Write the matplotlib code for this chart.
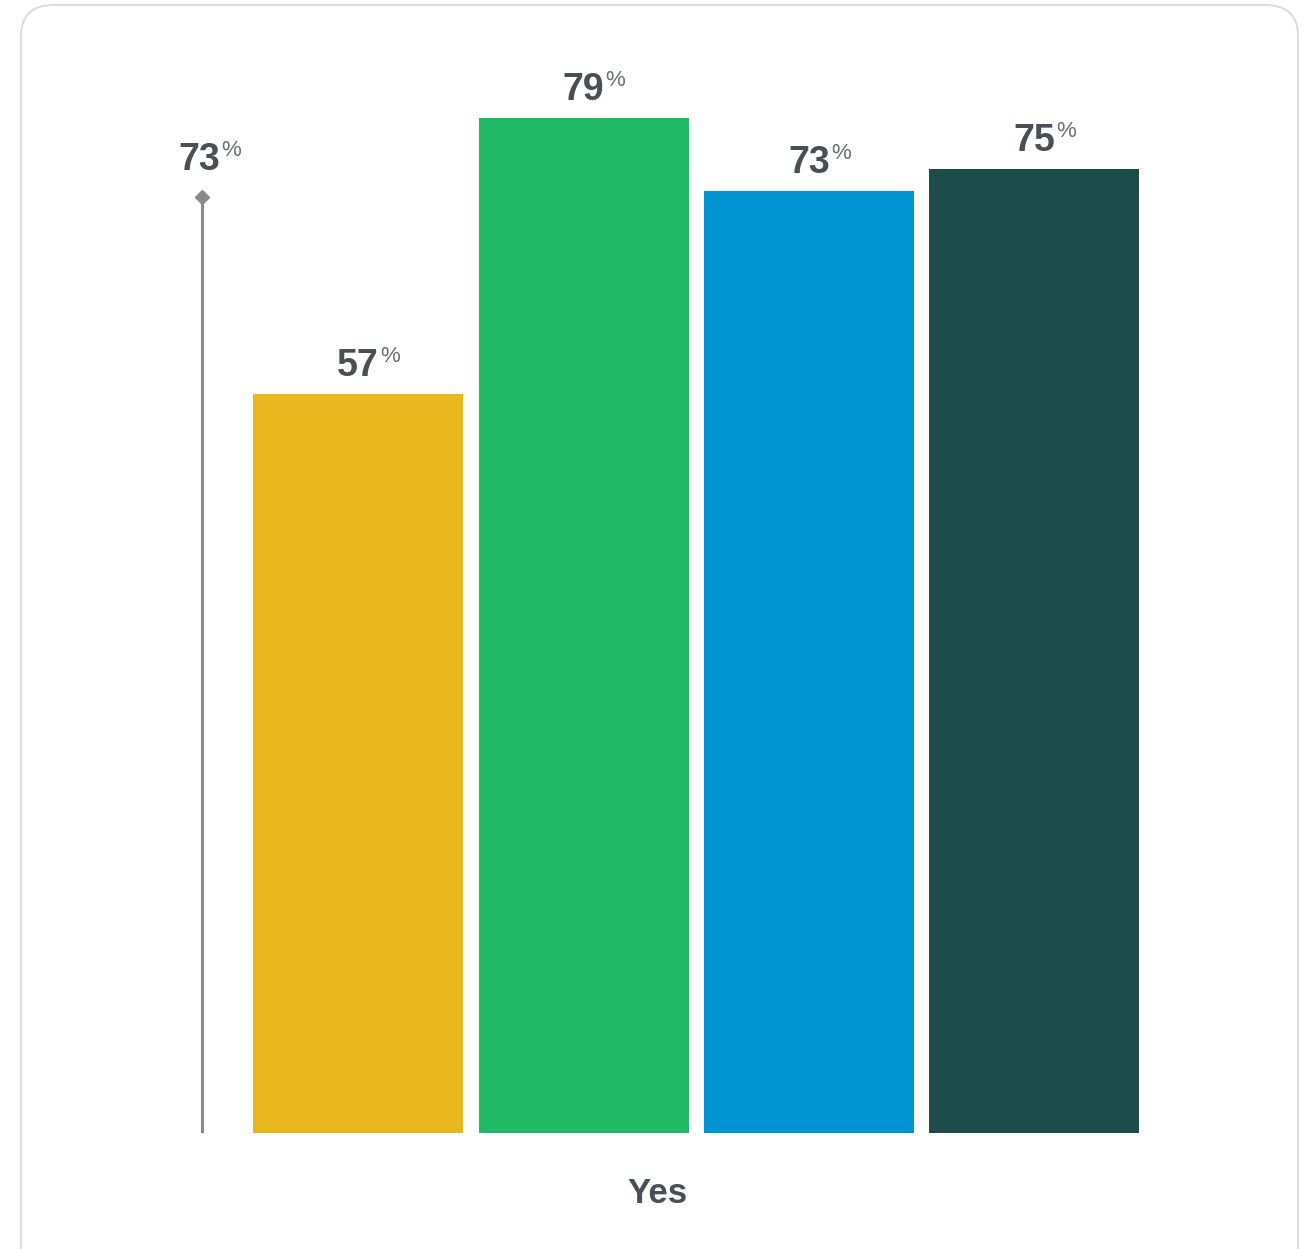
import matplotlib.pyplot as plt
from matplotlib.patches import FancyBboxPatch

# data (bar heights, labels show rounded values)
category = "Yes"
values = [57.4, 78.9, 73.2, 74.9]
colors = ["#E8B81E", "#21B866", "#0194D3", "#1C4D4B"]
reference = 72.7

text_color = "#4A4F56"
plt.rcParams['font.family'] = ['Liberation Sans', 'DejaVu Sans']

W, H = 1308, 1249
fig = plt.figure(figsize=(W / 100, H / 100), dpi=100)
fig.patch.set_facecolor("white")

# rounded card, behind the axes
card = FancyBboxPatch((21 / W, -40 / H), 1277 / W, (H - 5 + 40) / H,
                      boxstyle="round,pad=0,rounding_size=0.025",
                      transform=fig.transFigure, facecolor="white",
                      edgecolor="#D9D9D9", linewidth=1.3, zorder=-5)
fig.patches.append(card)

# axes: baseline at y=1133 px, ~12.87 px per %
px_per_unit = 225.5
ymax = 85
ax = fig.add_axes([0, (H - 1133) / H, 1, ymax * 12.87 / H])
ax.set_xlim(-358 / px_per_unit, (W - 358) / px_per_unit)
ax.set_ylim(0, ymax)
ax.axis("off")
ax.patch.set_alpha(0)

xs = list(range(len(values)))
ax.bar(xs, values, width=210 / px_per_unit, color=colors, zorder=2)

# reference line
ref_x = (202 - 358) / px_per_unit
ax.plot([ref_x, ref_x], [0, reference], color="#8A8A8A", lw=2.2, zorder=2)
ax.plot([ref_x], [reference], marker="D", color="#8A8A8A", markersize=7, zorder=3)

nums = []
for x, v in zip(xs, values):
    t = ax.annotate(f"{round(v)}", (x, v), xytext=(0, 13), textcoords="offset points",
                    ha="center", va="baseline", fontsize=27, fontweight="bold",
                    color=text_color)
    nums.append(t)
t = ax.annotate(f"{round(reference)}", (ref_x, reference), xytext=(-2, 20),
                textcoords="offset points", ha="center", va="baseline",
                fontsize=27, fontweight="bold", color=text_color)
nums.append(t)

fig.canvas.draw()
r = fig.canvas.get_renderer()
for t in nums:
    bb = t.get_window_extent(r)
    fig.text((bb.x1 + 1) / W, (bb.y1 - 14) / H, "%", ha="left", va="baseline",
             fontsize=16, color="#6B7077")

fig.text(657 / W, (H - 1203) / H, category, ha="center", va="baseline",
         fontsize=25, fontweight="bold", color=text_color)

fig.savefig("out.png", dpi=100)
